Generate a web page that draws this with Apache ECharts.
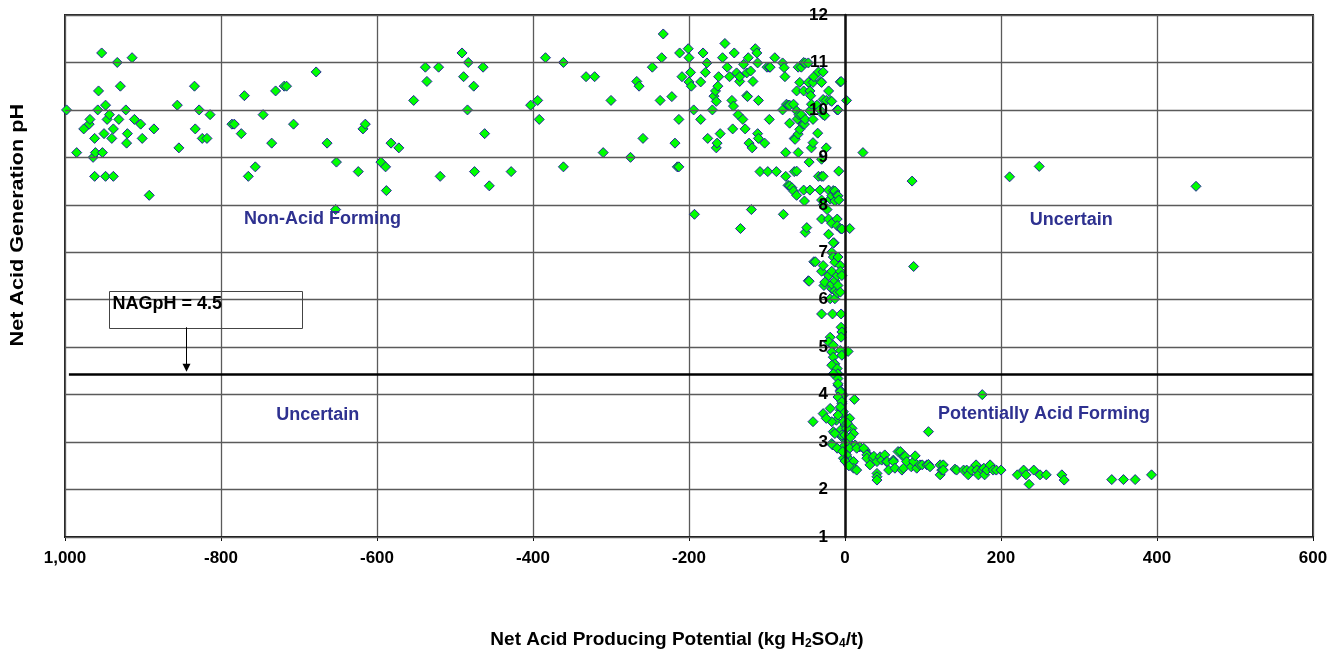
<!DOCTYPE html>
<html>
<head>
<meta charset="utf-8">
<script src="https://cdn.jsdelivr.net/npm/echarts@6/dist/echarts.min.js"></script>
<style>
html,body{margin:0;padding:0;background:#fff;}
#main{width:1338px;height:655px;}
</style>
</head>
<body>
<div id="main"></div>
<script>
// ---------- axis definitions ----------
const X_MIN = -1000, X_MAX = 600, X_STEP = 200;
const Y_MIN = 1, Y_MAX = 12, Y_STEP = 1;
const xTickLabels = ['1,000', '-800', '-600', '-400', '-200', '0', '200', '400', '600'];
const yTickLabels = ['1', '2', '3', '4', '5', '6', '7', '8', '9', '10', '11', '12'];
const Y_AXIS_AT_X = 0; // the value axis crosses the x axis at 0

// ---------- threshold ----------
const NAG_LINE_Y = 4.42;       // drawn NAGpH threshold line
const NAG_LINE_X_START = -995;
const NAG_LABEL = 'NAGpH = 4.5';

// ---------- data: [NAPP, NAGpH] ----------
const ptsFarLeft = [
  [-998,10.0],[-985,9.1],[-976,9.6],[-969,9.7],[-968,9.8],[-964,9.0],[-962,9.4],[-962,8.6],[-961,9.1],
  [-958,10.0],[-957,10.4],[-953,11.2],[-952,9.1],[-950,9.5],[-948,10.1],[-948,8.6],[-946,9.8],[-943,9.9],
  [-940,9.4],[-938,9.6],[-938,8.6],[-933,11.0],[-931,9.8],[-929,10.5],[-922,10.0],[-921,9.3],[-920,9.5],
  [-914,11.1],[-911,9.8],[-903,9.7],[-901,9.4],[-892,8.2],[-886,9.6],[-856,10.1],[-854,9.2],[-834,10.5],
  [-833,9.6],[-828,10.0],[-824,9.4],[-818,9.4],[-814,9.9],[-786,9.7],[-783,9.7],[-774,9.5],[-770,10.3],
  [-765,8.6],[-756,8.8],[-746,9.9],[-735,9.3],[-730,10.4],[-719,10.5],[-716,10.5],[-707,9.7],[-678,10.8],
  [-664,9.3],[-653,7.9],[-652,8.9],[-624,8.7],[-618,9.6],[-615,9.7],[-595,8.9],[-589,8.8],[-588,8.3],
  [-582,9.3],[-572,9.2],[-553,10.2],[-538,10.9],[-536,10.6],[-521,10.9],[-519,8.6]
];
const ptsMid = [
  [-491,11.2],[-489,10.7],[-484,10.0],[-483,11.0],[-476,10.5],[-475,8.7],[-464,10.9],[-462,9.5],[-456,8.4],
  [-428,8.7],[-403,10.1],[-394,10.2],[-392,9.8],[-384,11.1],[-361,11.0],[-361,8.8],[-332,10.7],[-321,10.7],
  [-310,9.1],[-300,10.2],[-275,9.0],[-267,10.6],[-264,10.5],[-259,9.4],[-247,10.9],[-237,10.2],[-235,11.1],
  [-233,11.6],[-222,10.28],[-218,9.3],[-215,8.8],[-213,8.8],[-213,9.8],[-212,11.2],[-209,10.7],[-201,11.29],
  [-200,11.1],[-200,10.59],[-198,10.79],[-197,10.5],[-194,10.0],[-193,7.8],[-185,10.59],[-185,9.8],[-182,11.2],
  [-179,10.79],[-177,10.99],[-176,9.4],[-170,10.0],[-168,10.29],[-166,10.4],[-165,10.18],[-165,9.2],[-164,9.3],
  [-163,10.5],[-162,10.7],[-160,9.5],[-157,11.1],[-154,11.4],[-151,10.9],[-148,10.7],[-145,10.2],[-144,9.6],
  [-143,10.08],[-142,11.2],[-139,10.78],[-137,9.9],[-135,10.6],[-135,10.7],[-134,7.5],[-131,9.8],[-130,10.96],
  [-128,9.6],[-126,10.3],[-126,10.78],[-125,10.28],[-124,11.1],[-123,9.3],[-121,10.82],[-120,7.9],[-119,9.2],
  [-118,10.6],[-115,11.29],[-113,11.2],[-112,10.99],[-112,9.5],[-111,10.2],[-111,9.4],[-109,8.7],[-103,9.3]
];
const ptsNearZeroHigh = [
  [-100,10.9],[-99,8.7],[-97,10.9],[-97,9.8],[-96,10.9],[-90,11.1],[-88,8.7],[-80,10.99],[-80,10.0],[-79,7.8],
  [-78,10.89],[-77,10.7],[-76,9.1],[-76,8.6],[-75,10.12],[-73,10.1],[-73,8.41],[-71,10.1],[-71,9.72],[-71,8.4],
  [-68,8.36],[-66,10.12],[-66,8.29],[-65,9.4],[-65,8.7],[-64,9.38],[-62,10.4],[-62,9.98],[-62,8.71],[-62,8.2],
  [-61,9.81],[-60,10.9],[-60,9.49],[-60,9.1],[-59,9.9],[-58,10.58],[-58,9.59],[-56,10.9],[-56,9.9],[-54,9.7],
  [-53,10.4],[-53,11.0],[-53,8.31],[-52,9.7],[-52,8.08],[-51,10.99],[-51,9.8],[-51,7.42],[-49,7.52],[-47,10.99],
  [-47,10.58],[-46,8.9],[-45,10.4],[-45,9.98],[-45,8.31],[-44,10.3],[-43,10.12],[-43,9.2],[-41,10.58],[-41,9.8],
  [-41,9.31],[-40,10.7],[-36,10.1],[-35,9.51],[-34,10.8],[-34,8.6],[-32,10.0],[-32,8.31],[-31,10.6],[-30,10.58],
  [-30,8.96],[-30,8.6],[-30,8.1],[-30,7.7],[-28,10.8],[-28,10.22],[-28,9.9],[-28,8.6],[-28,8.0],[-26,9.88],
  [-24,10.2],[-24,9.2],[-23,7.9],[-21,10.4],[-21,8.31],[-21,7.7],[-21,7.38],[-19,10.2],[-19,8.12],[-17,10.18],
  [-17,8.19],[-17,7.61],[-17,7.0],[-15,8.3],[-14,7.2],[-13,8.29],[-13,8.08],[-10,10.0],[-10,8.2],[-10,7.7],
  [-10,7.56],[-9,10.0],[-9,8.19],[-8,8.71],[-8,8.1],[-6,10.59],[-6,7.5],[-5,10.6],[-4,7.49],[2,10.2],
  [6,7.5],[23,9.1]
];
const ptsColumn = [
  [-40,6.8],[-38,6.8],[-47,6.4],[-46,6.39],[-30,6.6],[-28,6.72],[-27,6.3],[-26,6.37],[-21,6.51],[-19,6.02],
  [-17,6.6],[-17,6.23],[-17,6.33],[-15,6.9],[-15,7.2],[-13,6.79],[-13,6.4],[-13,6.19],[-13,6.02],[-10,6.51],
  [-10,6.15],[-9,6.9],[-9,6.3],[-6,6.72],[-6,6.6],[-6,6.16],[-4,6.51],[-30,5.7],[-16,5.7],[-5,5.7],
  [-5,5.42],[-4,5.32],[-5,5.21],[-19,5.21],[-21,5.11],[-15,5.04],[-6,4.93],[-4,4.83],[-17,4.9],[-15,4.79],
  [4,4.91],[-13,4.65],[-17,4.62],[-10,4.55],[-9,4.44],[-15,4.44],[-9,4.34],[-9,4.2],[-6,4.09],[-2,3.99]
];
const ptsCluster = [
  [-9,4.23],[-6,4.06],[-9,3.95],[-4,3.81],[-6,3.67],[-2,3.57],[-11,3.46],[0,3.36],[-6,3.25],[-4,3.11],
  [2,3.01],[-2,2.9],[0,2.76],[4,2.66],[9,2.55],[-28,3.6],[-19,3.71],[-41,3.43],[-17,3.43],[-15,3.22],
  [-17,2.97],[-24,3.5],[-16,2.94],[-10,2.87],[-4,3.15],[12,3.9],[6,3.5],[9,3.29],[11,3.18],[13,2.94],
  [19,2.9],[26,2.83],[30,2.73],[-2,3.43],[2,3.29],[0,3.15],[4,3.0],[6,2.87],[2,2.73],[-2,2.66],
  [11,2.59],[15,2.87],[24,2.87],[28,2.73],[11,2.45],[15,2.41],[-13,3.18],[-2,3.64],[-4,3.85],[-6,3.74],
  [-9,3.57],[0,2.6],[5,2.5],[-3,2.8],[7,3.1],[3,3.4]
];
const ptsTail = [
  [28,2.66],[32,2.52],[36,2.66],[37,2.7],[41,2.59],[41,2.34],[41,2.27],[41,2.2],[45,2.69],[47,2.62],
  [51,2.73],[53,2.59],[54,2.59],[56,2.41],[62,2.62],[62,2.59],[64,2.45],[68,2.8],[71,2.8],[73,2.41],
  [75,2.69],[75,2.45],[77,2.7],[79,2.59],[85,2.48],[88,2.59],[90,2.71],[92,2.45],[96,2.52],[99,2.52],
  [105,2.52],[107,2.53],[109,2.48],[122,2.52],[122,2.31],[124,2.41],[126,2.52],[126,2.41],[141,2.43],[143,2.41],
  [152,2.41],[156,2.41],[158,2.31],[162,2.41],[168,2.52],[169,2.41],[171,2.31],[176,2.41],[178,2.45],[179,2.31],
  [182,2.41],[186,2.52],[190,2.41],[194,2.41],[200,2.41],[221,2.31],[229,2.41],[232,2.31],[236,2.11],[242,2.41],
  [250,2.31],[258,2.31],[278,2.31],[281,2.2],[342,2.21],[357,2.21],[372,2.21],[393,2.31]
];
const ptsRight = [
  [88,6.7],[86,8.5],[107,3.22],[176,4.0],[211,8.59],[249,8.81],[450,8.39]
];

// ---------- region labels (data-space anchors) ----------
const regionLabels = [
  { text: 'Non-Acid Forming', x: -670, y: 7.7 },
  { text: 'Uncertain', x: -676, y: 3.56 },
  { text: 'Uncertain', x: 290, y: 7.68 },
  { text: 'Potentially Acid Forming', x: 255, y: 3.6 }
];
// annotation box (data-space corners) and arrow
const NAG_BOX = { x1: -943, x2: -695, yTop: 6.19, yBottom: 5.42 };
const NAG_ARROW_X = -845;
const Y_TITLE_AT = 7.57; // vertical centre of the y-axis title, in pH units

const FONT = "'Liberation Sans', Arial, Helvetica, sans-serif";
const LABEL_BLUE = '#2e3190';

const CHART_W = 1338, GRID_LEFT = 65, GRID_RIGHT = 25;
const gridWidth = CHART_W - GRID_LEFT - GRID_RIGHT;
const yAxisShift = (Y_AXIS_AT_X - X_MIN) / (X_MAX - X_MIN) * gridWidth;

const groups = [ptsFarLeft, ptsMid, ptsNearZeroHigh, ptsColumn, ptsCluster, ptsTail, ptsRight];
const series = groups.map(g => ({
  type: 'scatter',
  data: g,
  symbol: 'diamond',
  symbolSize: 10,
  itemStyle: { color: '#00ff00', borderColor: '#24249a', borderWidth: 1, opacity: 1 },
  emphasis: { disabled: true },
  z: 3
}));
series.push({
  type: 'line',
  data: [],
  markLine: {
    silent: true,
    symbol: ['none', 'none'],
    label: { show: false },
    lineStyle: { color: '#000', width: 2.5, type: 'solid' },
    data: [[{ coord: [NAG_LINE_X_START, NAG_LINE_Y] }, { coord: [X_MAX, NAG_LINE_Y] }]]
  },
  z: 2
});

const chart = echarts.init(document.getElementById('main'));
const option = {
  animation: false,
  backgroundColor: '#ffffff',
  grid: { left: GRID_LEFT, right: GRID_RIGHT, top: 15, bottom: 117, show: true, borderColor: '#222', borderWidth: 2, backgroundColor: 'transparent' },
  xAxis: {
    type: 'value', min: X_MIN, max: X_MAX, interval: X_STEP,
    axisLine: { show: true, lineStyle: { color: '#111', width: 2 } },
    axisTick: { show: true, length: 4, lineStyle: { color: '#111' } },
    splitLine: { show: true, lineStyle: { color: '#5a5a5a', width: 1.3 } },
    axisLabel: {
      color: '#000', fontFamily: FONT, fontWeight: 'bold', fontSize: 17, margin: 13,
      formatter: v => xTickLabels[Math.round((v - X_MIN) / X_STEP)]
    },
    name: 'Net Acid Producing Potential (kg H{sub|2}SO{sub|4}/t)',
    nameLocation: 'middle', nameGap: 92,
    nameTextStyle: {
      color: '#000', fontFamily: FONT, fontWeight: 'bold', fontSize: 19, padding: [0, 24, 0, 0],
      rich: { sub: { fontFamily: FONT, fontWeight: 'bold', fontSize: 12, color: '#000', padding: [9, 0, 0, 0] } }
    }
  },
  yAxis: {
    type: 'value', min: Y_MIN, max: Y_MAX, interval: Y_STEP,
    position: 'left', offset: -yAxisShift, z: 10,
    axisLine: { show: true, onZero: false, lineStyle: { color: '#111', width: 2.5 } },
    axisTick: { show: false },
    splitLine: { show: true, lineStyle: { color: '#5a5a5a', width: 1.3 } },
    axisLabel: {
      color: '#000', fontFamily: FONT, fontWeight: 'bold', fontSize: 17, margin: 17,
      formatter: v => yTickLabels[Math.round((v - Y_MIN) / Y_STEP)]
    }
  },
  series: series
};
chart.setOption(option);

function px(x, y) { return chart.convertToPixel({ gridIndex: 0 }, [x, y]); }

const graphics = [];
regionLabels.forEach(r => {
  const p = px(r.x, r.y);
  graphics.push({
    type: 'text', x: p[0], y: p[1], z: 10,
    style: { text: r.text, fill: LABEL_BLUE, font: 'bold 18px ' + FONT, textAlign: 'center', textVerticalAlign: 'middle' }
  });
});
const b1 = px(NAG_BOX.x1, NAG_BOX.yTop), b2 = px(NAG_BOX.x2, NAG_BOX.yBottom);
graphics.push({
  type: 'rect', z: 10,
  shape: { x: Math.round(b1[0]) + 0.5, y: Math.round(b1[1]) + 0.5, width: Math.round(b2[0] - b1[0]), height: Math.round(b2[1] - b1[1]) },
  style: { fill: 'rgba(255,255,255,0)', stroke: '#444', lineWidth: 1 }
});
graphics.push({
  type: 'text', x: b1[0] + 3, y: b1[1] + 13, z: 11,
  style: { text: NAG_LABEL, fill: '#000', font: 'bold 18px ' + FONT, textAlign: 'left', textVerticalAlign: 'middle' }
});
const aTop = px(NAG_ARROW_X, NAG_BOX.yBottom), aBot = px(NAG_ARROW_X, NAG_LINE_Y);
const ax = Math.round(aTop[0]) + 0.5;
graphics.push({
  type: 'line', z: 10,
  shape: { x1: ax, y1: aTop[1], x2: ax, y2: aBot[1] - 8 },
  style: { stroke: '#000', lineWidth: 1 }
});
graphics.push({
  type: 'polygon', z: 10,
  shape: { points: [[ax - 4, aBot[1] - 11], [ax + 4, aBot[1] - 11], [ax, aBot[1] - 3]] },
  style: { fill: '#000' }
});
const tY = px(X_MIN, Y_TITLE_AT);
graphics.push({
  type: 'text', x: 18, y: tY[1], rotation: Math.PI / 2, scaleX: 1.2, scaleY: 1, z: 10,
  style: { text: 'Net Acid Generation pH', fill: '#000', font: 'bold 18px ' + FONT, textAlign: 'center', textVerticalAlign: 'middle' }
});
chart.setOption({ graphic: graphics });
</script>
</body>
</html>
